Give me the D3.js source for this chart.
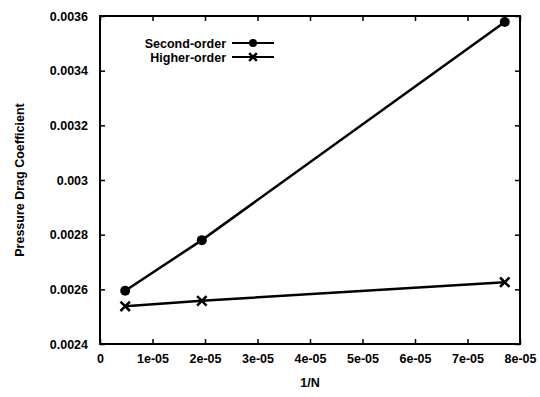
<!DOCTYPE html>
<html><head><meta charset="utf-8">
<script src="https://cdn.jsdelivr.net/npm/d3@7/dist/d3.min.js"></script>
<style>body{margin:0;background:#fff}svg text{font-family:"Liberation Sans",Arial,sans-serif;font-weight:bold}</style>
</head><body><svg id="c" width="540" height="397"></svg>
<script>
const xVals = [4.8e-6, 1.94e-5, 7.71e-5];
const secondOrder = [0.002595, 0.00278, 0.003578];
const higherOrder = [0.002538, 0.002558, 0.002626];
const xTicks = [0, 1e-5, 2e-5, 3e-5, 4e-5, 5e-5, 6e-5, 7e-5, 8e-5];
const xTickLabels = ["0","1e-05","2e-05","3e-05","4e-05","5e-05","6e-05","7e-05","8e-05"];
const yTicks = [0.0024, 0.0026, 0.0028, 0.003, 0.0032, 0.0034, 0.0036];
const yTickLabels = ["0.0024","0.0026","0.0028","0.003","0.0032","0.0034","0.0036"];
const seriesNames = ["Second-order", "Higher-order"];

const svg = d3.select("#c");
const L=100, R=520, T=16, B=344;
const x = d3.scaleLinear().domain([0, 8e-5]).range([L, R]);
const y = d3.scaleLinear().domain([0.0024, 0.0036]).range([B, T]);

const tl = 5, fs = 12.5;
svg.append("g").attr("transform",`translate(0,${B})`)
  .call(d3.axisBottom(x).tickValues(xTicks).tickSize(-tl).tickPadding(10).tickFormat((d,i)=>xTickLabels[i]));
svg.append("g").attr("transform",`translate(0,${T})`)
  .call(d3.axisTop(x).tickValues(xTicks).tickSize(-tl).tickFormat(""));
svg.append("g").attr("transform",`translate(${L},0)`)
  .call(d3.axisLeft(y).tickValues(yTicks).tickSize(-tl).tickPadding(12).tickFormat((d,i)=>yTickLabels[i]));
svg.append("g").attr("transform",`translate(${R},0)`)
  .call(d3.axisRight(y).tickValues(yTicks).tickSize(-tl).tickFormat(""));
svg.selectAll(".domain").remove();
svg.selectAll(".tick line").attr("stroke","#000").attr("stroke-width",1.5);
svg.selectAll(".tick text").attr("font-size",fs).attr("fill","#000");
svg.append("rect").attr("x",L).attr("y",T).attr("width",R-L).attr("height",B-T)
  .attr("fill","none").attr("stroke","#000").attr("stroke-width",2);

svg.append("text").attr("x",(L+R)/2).attr("y",387).attr("text-anchor","middle").attr("font-size",fs).text("1/N");
svg.append("text").attr("transform",`translate(24,${(T+B)/2}) rotate(-90)`).attr("text-anchor","middle").attr("font-size",fs).text("Pressure Drag Coefficient");

const line = d3.line().x(d=>x(d[0])).y(d=>y(d[1]));
const s1 = xVals.map((v,i)=>[v,secondOrder[i]]);
const s2 = xVals.map((v,i)=>[v,higherOrder[i]]);
svg.append("path").datum(s1).attr("d",line).attr("fill","none").attr("stroke","#000").attr("stroke-width",2.5);
svg.append("path").datum(s2).attr("d",line).attr("fill","none").attr("stroke","#000").attr("stroke-width",2.5);
svg.selectAll(".c1").data(s1).join("circle").attr("cx",d=>x(d[0])).attr("cy",d=>y(d[1])).attr("r",5).attr("fill","#000");
const cross = d3.symbol().type(d3.symbolX).size(60);
svg.selectAll(".c2").data(s2).join("path").attr("d",cross).attr("transform",d=>`translate(${x(d[0])},${y(d[1])})`)
  .attr("fill","none").attr("stroke","#000").attr("stroke-width",2.5);

// legend
const lg = [{n:seriesNames[0],y:43,m:"c"},{n:seriesNames[1],y:57,m:"x"}];
lg.forEach(d=>{
  svg.append("text").attr("x",226).attr("y",d.y+4.5).attr("text-anchor","end").attr("font-size",fs).text(d.n);
  svg.append("line").attr("x1",232).attr("x2",274).attr("y1",d.y).attr("y2",d.y).attr("stroke","#000").attr("stroke-width",2);
  if(d.m==="c") svg.append("circle").attr("cx",253).attr("cy",d.y).attr("r",4).attr("fill","#000");
  else svg.append("path").attr("d",d3.symbol().type(d3.symbolX).size(40)).attr("transform",`translate(253,${d.y})`).attr("stroke","#000").attr("stroke-width",2.5);
});
</script></body></html>
